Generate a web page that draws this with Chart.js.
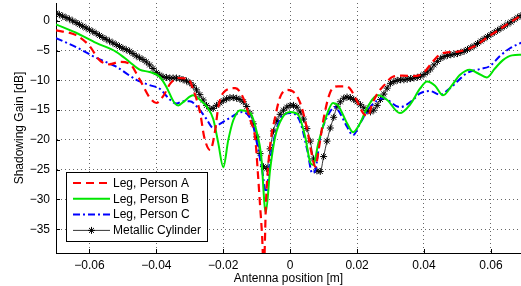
<!DOCTYPE html>
<html>
<head>
<meta charset="utf-8">
<script src="https://cdn.jsdelivr.net/npm/chart.js@4"></script>
<style>
  html, body { margin: 0; padding: 0; background: #fff; }
  canvas { display: block; }
</style>
</head>
<body>
<canvas id="gainChart" width="521" height="286"></canvas>
<script>
// axis ticks
const xTicks = [-0.06, -0.04, -0.02, 0, 0.02, 0.04, 0.06];
const yTicks = [-35, -30, -25, -20, -15, -10, -5, 0];
const seriesNames = ["Leg, Person A", "Leg, Person B", "Leg, Person C", "Metallic Cylinder"];

// Leg, Person A (red dashed)
const posA = [-0.070, -0.064, -0.060, -0.057, -0.054, -0.051, -0.048, -0.0454, -0.0421, -0.040,
  -0.0379, -0.0358, -0.0334, -0.0304, -0.029, -0.0269, -0.0257, -0.0239, -0.0224, -0.0215,
  -0.020, -0.0164, -0.014, -0.0119, -0.0104, -0.0096, -0.009, -0.0084, -0.0079, -0.0072,
  -0.006, -0.0045, -0.003, -0.0009, 0.0009, 0.003, 0.0051, 0.0063, 0.0075, 0.0087,
  0.0099, 0.0119, 0.0143, 0.0164, 0.0179, 0.020, 0.0218, 0.0233, 0.0245, 0.0263,
  0.0278, 0.0307, 0.0337, 0.0367, 0.0397, 0.0427, 0.0448, 0.0469, 0.0499, 0.0528,
  0.0546, 0.0597, 0.0648, 0.0693];
const gainA = [-1.6, -2.4, -4.2, -6.6, -7.3, -6.9, -7.2, -9.4, -12.8, -13.8,
  -12.6, -10.5, -9.6, -9.8, -11.5, -15.5, -19.5, -21.7, -18.3, -14.5,
  -12.1, -11.3, -13.0, -16.7, -20.0, -26.0, -31.0, -36.0, -42.0, -30.0,
  -21.0, -16.2, -12.8, -11.6, -11.9, -13.8, -18.3, -22.0, -24.5, -21.0,
  -16.7, -12.1, -11.0, -11.0, -11.4, -13.5, -15.5, -16.0, -14.0, -12.0,
  -11.0, -9.4, -9.2, -9.3, -8.8, -6.8, -5.6, -5.3, -5.2, -4.8,
  -4.4, -2.5, -0.6, 1.0];

// Leg, Person B (green solid)
const posB = [-0.070, -0.064, -0.058, -0.052, -0.048, -0.045, -0.042, -0.039, -0.037, -0.0346,
  -0.0334, -0.0319, -0.029, -0.0269, -0.0248, -0.023, -0.0215, -0.020, -0.0185, -0.017,
  -0.0149, -0.0119, -0.0099, -0.0087, -0.0073, -0.006, -0.0045, -0.0024, 0, 0.0024,
  0.0045, 0.006, 0.0069, 0.0084, 0.0104, 0.0128, 0.0143, 0.017, 0.0188, 0.0209,
  0.023, 0.0263, 0.029, 0.0328, 0.0358, 0.0388, 0.0409, 0.0433, 0.0457, 0.0484,
  0.0507, 0.0537, 0.0561, 0.0588, 0.0612, 0.0636, 0.0663, 0.0693];
const gainB = [-0.6, -2.0, -3.7, -5.2, -6.9, -8.2, -8.6, -9.4, -11.1, -13.8,
  -14.2, -13.6, -12.5, -13.3, -14.5, -16.5, -20.5, -24.6, -20.0, -16.7,
  -15.0, -15.5, -18.9, -22.5, -32.2, -25.0, -19.5, -16.3, -15.3, -15.8,
  -19.5, -23.8, -24.2, -20.6, -16.7, -13.8, -14.2, -17.2, -18.7, -17.2,
  -14.6, -12.5, -13.3, -15.5, -14.1, -11.4, -10.2, -10.9, -12.5, -10.8,
  -9.1, -8.2, -8.8, -9.5, -8.0, -6.6, -5.8, -5.7];

// Leg, Person C (blue dash-dot)
const posC = [-0.070, -0.064, -0.058, -0.052, -0.046, -0.042, -0.039, -0.036, -0.034, -0.032,
  -0.030, -0.027, -0.025, -0.023, -0.021, -0.018, -0.0143, -0.0113, -0.0096, -0.0084,
  -0.0072, -0.006, -0.0039, -0.0021, 0.0006, 0.003, 0.0051, 0.0066, 0.0075, 0.009,
  0.011, 0.0134, 0.0149, 0.017, 0.0188, 0.0209, 0.0239, 0.0278, 0.0328, 0.0367,
  0.0388, 0.0418, 0.0448, 0.0478, 0.0528, 0.0567, 0.0597, 0.0627, 0.0657, 0.0693];
const gainC = [-2.9, -4.4, -6.2, -7.7, -9.9, -10.8, -11.4, -13.2, -13.9, -13.5,
  -13.5, -15.0, -16.5, -18.0, -17.3, -16.3, -15.3, -17.2, -21.5, -25.0,
  -28.8, -23.4, -17.8, -15.8, -15.5, -17.0, -21.7, -25.6, -25.1, -19.5,
  -16.2, -14.5, -15.5, -17.8, -19.2, -17.2, -14.5, -13.0, -14.5, -13.3,
  -12.2, -11.8, -12.4, -11.3, -8.8, -8.1, -7.6, -5.9, -4.6, -3.6];

// Metallic Cylinder, sampled every 1 mm from -0.07 m
const gainCyl = [
  1.3, 1.05, 0.8, 0.55, 0.3, 0.0, -0.3, -0.6, -0.9, -1.2,
  -1.5, -1.8, -2.1, -2.45, -2.8, -3.1, -3.4, -3.7, -4.0, -4.3,
  -4.6, -4.85, -5.1, -5.5, -5.9, -6.2, -6.5, -6.9, -7.4, -8.0,
  -8.7, -9.1, -9.4, -9.5, -9.6, -9.6, -9.6, -9.7, -9.9, -10.1,
  -10.4, -10.9, -11.6, -12.4, -13.3, -14.2, -14.8, -14.7, -14.2, -13.8,
  -13.4, -13.1, -12.9, -12.9, -13.0, -13.2, -13.6, -14.4, -15.5, -17.3,
  -19.5, -22.3, -24.5, -24.8, -21.5, -18.5, -16.8, -15.7, -15.0, -14.5,
  -14.2, -14.2, -14.5, -15.3, -16.5, -18.1, -20.2, -23.2, -25.2, -25.3,
  -22.8, -20.2, -18.0, -16.2, -14.4, -13.6, -13.0, -12.8, -12.9, -13.2,
  -13.6, -14.1, -14.6, -15.1, -15.3, -15.0, -14.2, -13.2, -12.3, -11.3,
  -10.5, -10.2, -10.0, -9.9, -9.9, -9.8, -9.7, -9.6, -9.5, -9.3,
  -9.0, -8.6, -8.1, -7.4, -6.8, -6.3, -6.0, -5.8, -5.7, -5.6,
  -5.5, -5.3, -5.1, -4.8, -4.5, -4.2, -3.8, -3.4, -3.0, -2.65,
  -2.3, -1.95, -1.6, -1.25, -0.9, -0.55, -0.2, 0.2, 0.6, 0.9,
  1.2];
const posCyl = gainCyl.map((g, i) => -0.07 + 0.001 * i);

const pts = (xs, ys) => xs.map((x, i) => ({ x: x, y: ys[i] }));
const minus = "\u2212";

Chart.defaults.font.family = '"Liberation Sans", Arial, sans-serif';
Chart.defaults.font.size = 12;
Chart.defaults.color = "#000";

// legend box inside the plot + inward tick marks
const boxLegend = {
  id: "boxLegend",
  afterDraw(chart) {
    const ctx = chart.ctx;
    const area = chart.chartArea;
    ctx.save();

    // small inward ticks like the original
    ctx.strokeStyle = "#000";
    ctx.lineWidth = 1;
    ctx.beginPath();
    xTicks.forEach(v => {
      const px = Math.round(chart.scales.x.getPixelForValue(v)) + 0.5;
      ctx.moveTo(px, area.bottom);
      ctx.lineTo(px, area.bottom - 4);
    });
    yTicks.forEach(v => {
      const py = Math.round(chart.scales.y.getPixelForValue(v)) + 0.5;
      ctx.moveTo(area.left, py);
      ctx.lineTo(area.left + 4, py);
    });
    ctx.stroke();

    const x0 = area.left + 10, y0 = 172, w = 141, h = 69;
    ctx.fillStyle = "#fff";
    ctx.fillRect(x0, y0, w, h);
    ctx.strokeStyle = "#000";
    ctx.lineWidth = 1;
    ctx.strokeRect(x0 + 0.5, y0 + 0.5, w, h);

    chart.data.datasets.forEach((ds, i) => {
      const y = y0 + 11 + i * 15.8;
      ctx.save();
      ctx.strokeStyle = ds.borderColor;
      ctx.lineWidth = ds.borderWidth;
      ctx.setLineDash(ds.borderDash || []);
      ctx.beginPath();
      ctx.moveTo(x0 + 7, y);
      ctx.lineTo(x0 + 44, y);
      ctx.stroke();
      ctx.restore();
      if (ds.pointRadius > 0) {
        const cx = x0 + 25.5, r = ds.pointRadius;
        ctx.beginPath();
        for (let k = 0; k < 4; k++) {
          const a = k * Math.PI / 4;
          ctx.moveTo(cx - r * Math.cos(a), y - r * Math.sin(a));
          ctx.lineTo(cx + r * Math.cos(a), y + r * Math.sin(a));
        }
        ctx.strokeStyle = "#000";
        ctx.lineWidth = 1;
        ctx.stroke();
      }
      ctx.fillStyle = "#000";
      ctx.font = '12px "Liberation Sans", Arial, sans-serif';
      ctx.textBaseline = "middle";
      ctx.textAlign = "left";
      ctx.fillText(ds.label, x0 + 47, y + 0.5);
    });
    ctx.restore();
  }
};

const ctx = document.getElementById("gainChart").getContext("2d");
new Chart(ctx, {
  type: "line",
  data: {
    datasets: [
      {
        label: seriesNames[0],
        data: pts(posA, gainA),
        borderColor: "#ff0000",
        borderWidth: 2.2,
        borderDash: [8, 5],
        pointRadius: 0,
        cubicInterpolationMode: "monotone"
      },
      {
        label: seriesNames[1],
        data: pts(posB, gainB),
        borderColor: "#00e600",
        borderWidth: 2,
        pointRadius: 0,
        cubicInterpolationMode: "monotone"
      },
      {
        label: seriesNames[2],
        data: pts(posC, gainC),
        borderColor: "#0000ff",
        borderWidth: 2,
        borderDash: [7, 3, 2, 3],
        pointRadius: 0,
        cubicInterpolationMode: "monotone"
      },
      {
        label: seriesNames[3],
        data: pts(posCyl, gainCyl),
        borderColor: "#000000",
        borderWidth: 0.8,
        pointStyle: "star",
        pointRadius: 3.5,
        pointBorderWidth: 1,
        pointBorderColor: "#000000",
        cubicInterpolationMode: "monotone"
      }
    ]
  },
  options: {
    responsive: false,
    animation: false,
    events: [],
    layout: { autoPadding: false, padding: { top: 3, right: 0, left: 0, bottom: 0 } },
    plugins: {
      legend: { display: false },
      tooltip: { enabled: false }
    },
    scales: {
      x: {
        type: "linear",
        min: -0.07,
        max: 0.069,
        afterBuildTicks: scale => { scale.ticks = xTicks.map(v => ({ value: v })); },
        afterFit: scale => { scale.height = 33; scale.paddingLeft = 0; scale.paddingRight = 0; },
        ticks: {
          padding: 5,
          maxRotation: 0,
          autoSkip: false,
          callback: v => v === 0 ? "0" : (v < 0 ? minus : "") + Math.abs(v).toFixed(2)
        },
        grid: { color: "rgba(0,0,0,0.6)", drawTicks: false },
        border: { display: true, color: "#000", width: 1, dash: [1, 3] },
        title: { display: true, text: "Antenna position [m]", padding: { top: 2, bottom: 0 } }
      },
      y: {
        min: -39,
        max: 3,
        afterBuildTicks: scale => { scale.ticks = yTicks.map(v => ({ value: v })); },
        afterFit: scale => { scale.width = 56; scale.paddingTop = 0; scale.paddingBottom = 0; },
        ticks: {
          padding: 6,
          callback: v => (v < 0 ? minus + Math.abs(v) : String(v))
        },
        grid: { color: "rgba(0,0,0,0.6)", drawTicks: false },
        border: { display: true, color: "#000", width: 1, dash: [1, 3] },
        title: { display: true, text: "Shadowing Gain [dB]", padding: { top: 12, bottom: 0 } }
      }
    }
  },
  plugins: [boxLegend]
});
</script>
</body>
</html>
